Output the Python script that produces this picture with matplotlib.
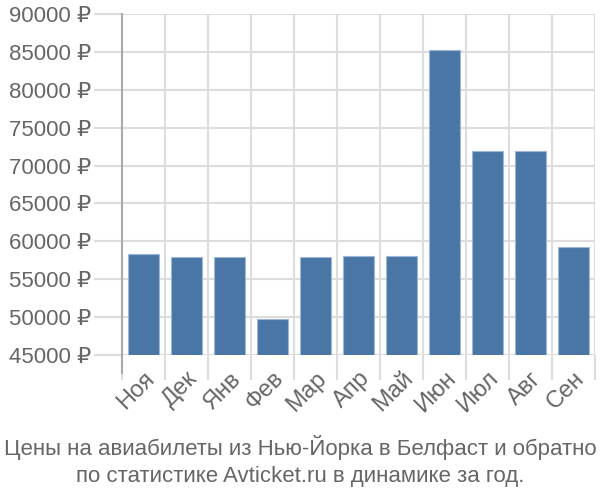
import matplotlib
matplotlib.use("Agg")
import numpy as np
import matplotlib.pyplot as plt

months = ["Ноя", "Дек", "Янв", "Фев", "Мар", "Апр", "Май", "Июн", "Июл", "Авг", "Сен"]
prices = [58300, 57900, 57900, 49750, 57900, 58050, 58000, 85300, 71900, 71900, 59300]
yticks = [45000, 50000, 55000, 60000, 65000, 70000, 75000, 80000, 85000, 90000]
title = "Цены на авиабилеты из Нью-Йорка в Белфаст и обратно\nпо статистике Avticket.ru в динамике за год."

plt.rcParams['font.family'] = ['Liberation Sans', 'DejaVu Sans']
text_color = '#666666'
grid_color = '#dddddd'

fig = plt.figure(figsize=(6, 5), dpi=100)
ax = fig.add_axes([122 / 600, 1 - 355 / 500, (595 - 122) / 600, 341 / 500])

x = np.arange(len(months))
ax.bar(x, prices, width=0.72, color='#4a76a6', edgecolor='#9fb7d6', linewidth=0.8, zorder=3)

ax.set_xlim(-0.5, len(months) - 0.5)
ax.set_ylim(45000, 90000)

# y axis
ax.set_yticks(yticks)
ax.set_yticklabels([f"{v} ₽" for v in yticks])
ax.tick_params(axis='y', length=20, width=1.5, color=grid_color, pad=2,
               labelsize=16, labelcolor=text_color)
ax.grid(axis='y', color=grid_color, linewidth=1.5, zorder=0)

# x axis: labels at centres, ticks/grid at boundaries
ax.set_xticks(x)
ax.set_xticklabels(months, rotation=45, ha='right', rotation_mode='anchor')
ax.set_xticks(np.arange(-0.5, len(months)), minor=True)
ax.tick_params(axis='x', which='major', length=0, pad=9, labelsize=17, labelcolor=text_color)
ax.tick_params(axis='x', which='minor', length=18, width=1.5, color=grid_color)
ax.grid(axis='x', which='minor', color=grid_color, linewidth=1.5, zorder=0)

for s in ['top', 'right', 'bottom']:
    ax.spines[s].set_visible(False)
ax.spines['left'].set_color('#aaaaaa')
ax.spines['left'].set_linewidth(1.5)
ax.spines['left'].set_bounds(42600, 90000)

fig.text(0.5, 1 - 461 / 500, title, ha='center', va='center',
         fontsize=16, color=text_color, linespacing=1.35)

fig.savefig("out.png", dpi=100)
